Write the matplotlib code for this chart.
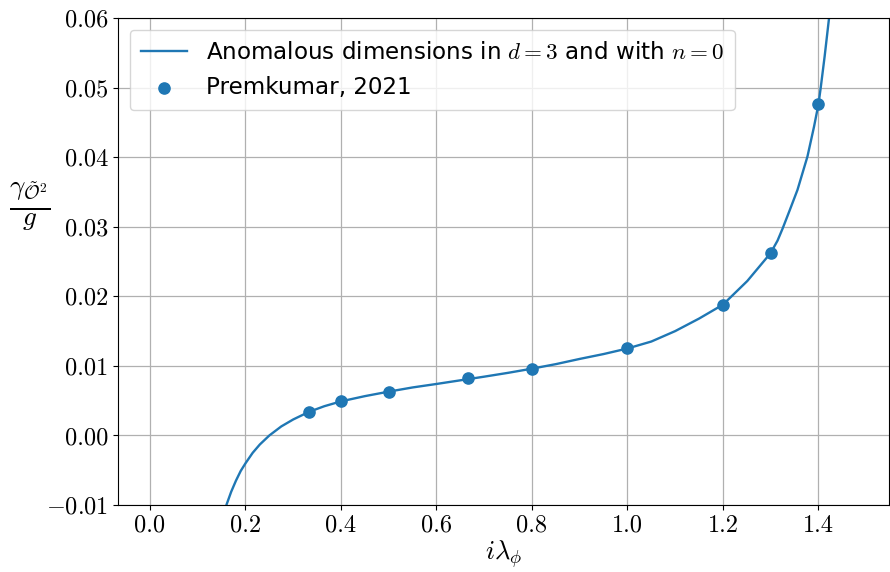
import numpy as np
import matplotlib
matplotlib.use("Agg")
import matplotlib.pyplot as plt

plt.rcParams['font.family'] = 'serif'
plt.rcParams['font.serif'] = ['cmr10']
plt.rcParams['mathtext.fontset'] = 'cm'
plt.rcParams['axes.formatter.use_mathtext'] = True
plt.rcParams['axes.unicode_minus'] = True

# curve
curve_x = [0.160, 0.170, 0.180, 0.190, 0.200, 0.215, 0.230, 0.250, 0.275, 0.300,
           0.3333, 0.365, 0.40, 0.45, 0.50, 0.55, 0.60, 0.6667, 0.70, 0.75,
           0.80, 0.85, 0.90, 0.95, 1.00, 1.05, 1.10, 1.15, 1.20, 1.251,
           1.2997, 1.3143, 1.3247, 1.340, 1.3561, 1.377, 1.3908, 1.40, 1.4048, 1.413, 1.4222, 1.43]
curve_y = [-0.0100, -0.0081, -0.0065, -0.0051, -0.0040, -0.0025, -0.0013, 0.0000, 0.0013, 0.0023,
           0.0034, 0.0042, 0.0049, 0.00565, 0.0063, 0.0069, 0.0074, 0.0081, 0.00845, 0.0090,
           0.0096, 0.01025, 0.0110, 0.0117, 0.0125, 0.0135, 0.0150, 0.0168, 0.0188, 0.0222,
           0.0262, 0.0280, 0.0297, 0.0324, 0.0353, 0.0401, 0.0444, 0.0476, 0.0500, 0.0545, 0.0600, 0.0660]

# Premkumar, 2021 points
prem_x = [1/3, 0.4, 0.5, 2/3, 0.8, 1.0, 1.2, 1.3, 1.4]
prem_y = [0.0033, 0.0049, 0.0063, 0.0082, 0.0096, 0.0125, 0.0188, 0.0262, 0.0476]

fig = plt.figure(figsize=(8.9, 5.72), dpi=100)
ax = fig.add_axes([0.1326, 0.1171, 0.8664, 0.8514])

ax.plot(curve_x, curve_y, color='#1f77b4', lw=1.7,
        label=r'Anomalous dimensions in $d=3$ and with $n=0$')
ax.scatter(prem_x, prem_y, s=65, color='#1f77b4', zorder=3, label='Premkumar, 2021')

ax.set_xlim(-0.067, 1.548)
ax.set_ylim(-0.01, 0.06)
ax.set_xticks(np.arange(0, 1.41, 0.2))
ax.set_yticks(np.arange(-0.01, 0.0601, 0.01))
ax.set_xticklabels([f'{v:.1f}' for v in np.arange(0, 1.41, 0.2)])
ax.set_yticklabels(['$-0.01$'] + [f'{v:.2f}' for v in np.arange(0, 0.0601, 0.01)])
ax.tick_params(labelsize=17.5)
ax.grid(True, color='#b0b0b0', lw=0.9)

ax.set_xlabel(r'$i\lambda_\phi$', fontsize=19, labelpad=1)
ax.set_ylabel(r'$\frac{\gamma_{\tilde{\mathcal{O}}^2}}{g}$', fontsize=28, rotation=0)
ax.yaxis.set_label_coords(-0.114, 0.558)

leg = ax.legend(loc='upper left', prop={'family': 'DejaVu Sans', 'size': 16.6},
                framealpha=0.8, borderpad=0.5)

fig.savefig('out.png', dpi=100)
